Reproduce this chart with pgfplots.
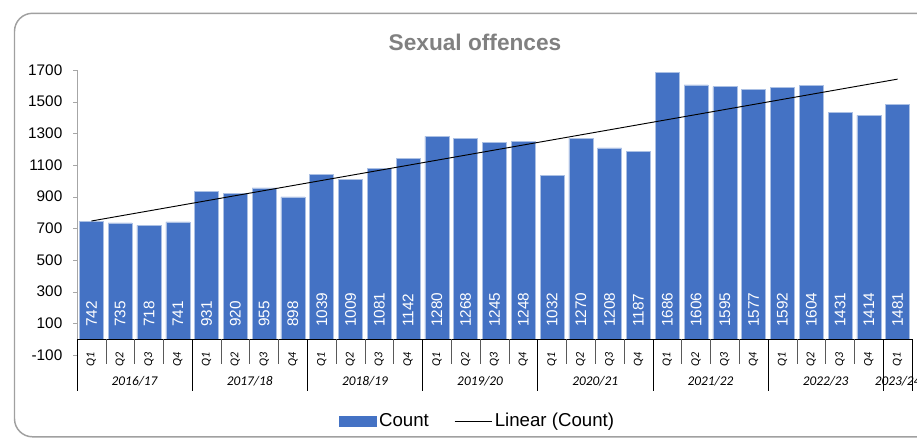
\documentclass[border=0pt]{standalone}
\usepackage{fontspec}
\setmainfont{Liberation Sans}
\newfontfamily\calibri{Carlito}
\usepackage{pgfplots}
\pgfplotsset{compat=1.18}
\usepackage{pgfplotstable}
\definecolor{barblue}{HTML}{4472C4}
\definecolor{titlegray}{HTML}{808080}
\definecolor{framegray}{HTML}{A0A0A0}
\definecolor{axisgray}{HTML}{A6A6A6}
\definecolor{sepgray}{HTML}{595959}

% quarter index, count, height of the value labels
\pgfplotstableread{
x y lab
1 742 77
2 735 77
3 718 77
4 741 77
5 931 77
6 920 77
7 955 77
8 898 77
9 1039 77
10 1009 77
11 1081 77
12 1142 77
13 1280 77
14 1268 77
15 1245 77
16 1248 77
17 1032 77
18 1270 77
19 1208 77
20 1187 77
21 1686 77
22 1606 77
23 1595 77
24 1577 77
25 1592 77
26 1604 77
27 1431 77
28 1414 77
29 1481 77
}\offences

\begin{document}
\begin{tikzpicture}
\useasboundingbox (0pt,0pt) rectangle (687.75pt,328.5pt);
\begin{scope}[x=0.75pt,y=0.75pt]
\draw[framegray, line width=1.1pt, rounded corners=13.5pt] (14.5,424.7) rectangle (990,1.2);
\node[font=\bfseries\fontsize{17}{20}\selectfont, text=titlegray] at (475,395.3) {Sexual offences};
\end{scope}

\begin{axis}[
  at={(57.75pt,62.25pt)}, anchor=south west, scale only axis,
  width=626.25pt, height=213.75pt,
  xmin=0.5, xmax=29.5, ymin=-100, ymax=1700,
  axis lines*=left,
  x axis line style={draw=none},
  y axis line style={draw=axisgray},
  ytick={-100,100,...,1700},
  y tick style={draw=axisgray},
  tick align=outside, major tick length=3pt,
  xtick={1,...,29}, x tick style={draw=none},
  xticklabels={Q1,Q2,Q3,Q4,Q1,Q2,Q3,Q4,Q1,Q2,Q3,Q4,Q1,Q2,Q3,Q4,Q1,Q2,Q3,Q4,Q1,Q2,Q3,Q4,Q1,Q2,Q3,Q4,Q1},
  xticklabel style={rotate=90, anchor=center, inner sep=0pt, font=\calibri\itshape\fontsize{9}{10}\selectfont},
  yticklabel style={font=\fontsize{11.5}{13}\selectfont, xshift=-4.5pt},
  /pgf/number format/assume math mode=true,
  /pgf/number format/1000 sep={},
  clip=false,
  legend columns=2,
  legend style={draw=none, fill=none, at={(0.48,-0.2316)}, anchor=center,
    font=\fontsize{14}{16}\selectfont,
    /tikz/every even column/.append style={column sep=17pt}},
]
\addplot[ybar, bar width=0.833, fill=barblue, draw=white!55!barblue, line width=0.4pt,
  legend image code/.code={\fill[barblue] (0pt,-3.75pt) rectangle (27.75pt,3.75pt);}]
  table[x=x, y=y] {\offences};
\addlegendentry{Count}
\addplot[black, line width=0.7pt, mark=none,
  legend image code/.code={\draw[black, line width=0.7pt] (0pt,0pt) -- (27.75pt,0pt);}]
  table[x=x, y={create col/linear regression={y=y}}] {\offences};
\addlegendentry{Linear (Count)}
\addplot[draw=none, mark=none, forget plot, nodes near coords, point meta=explicit symbolic,
  every node near coord/.append style={rotate=90, anchor=west, inner sep=0pt, text=white,
    font=\fontsize{11.5}{13}\selectfont}]
  table[x=x, y=lab, meta=y] {\offences};

% category axis with quarter and year separators
\draw[black] (axis cs:0.5,0) -- (axis cs:29.5,0);
\pgfplotsinvokeforeach{1.5,2.5,3.5,5.5,6.5,7.5,9.5,10.5,11.5,13.5,14.5,15.5,17.5,18.5,19.5,21.5,22.5,23.5,25.5,26.5,27.5}{
  \draw[sepgray] (axis cs:#1,0) -- (axis cs:#1,-157);
}
\pgfplotsinvokeforeach{0.5,4.5,8.5,12.5,16.5,20.5,24.5,28.5,29.5}{
  \draw[black] (axis cs:#1,0) -- (axis cs:#1,-327);
}
\begin{scope}[every node/.style={font=\calibri\itshape\fontsize{10}{12}\selectfont}]
\node at (axis cs:2.5,-268) {2016/17};
\node at (axis cs:6.5,-268) {2017/18};
\node at (axis cs:10.5,-268) {2018/19};
\node at (axis cs:14.5,-268) {2019/20};
\node at (axis cs:18.5,-268) {2020/21};
\node at (axis cs:22.5,-268) {2021/22};
\node at (axis cs:26.5,-268) {2022/23};
\node at (axis cs:29,-268) {2023/24};
\end{scope}
\end{axis}
\end{tikzpicture}
\end{document}
